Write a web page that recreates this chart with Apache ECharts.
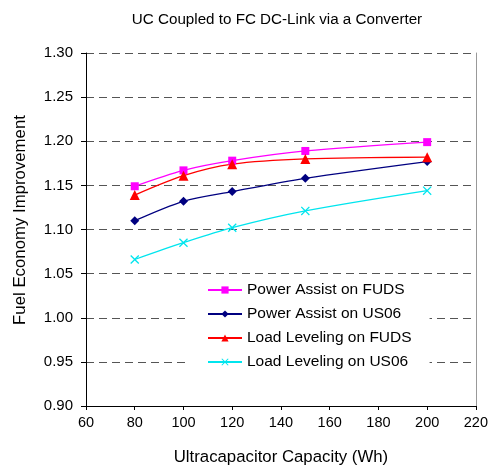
<!DOCTYPE html>
<html><head><meta charset="utf-8">
<script src="https://cdn.jsdelivr.net/npm/echarts@6/dist/echarts.min.js"></script>
<style>html,body{margin:0;padding:0;background:#fff}#c{width:491px;height:473px}</style>
</head><body><div id="c"></div>
<script>
const capacities = [80, 100, 120, 150, 200];
const powerAssistFUDS = [1.149, 1.167, 1.178, 1.189, 1.199];
const powerAssistUS06 = [1.110, 1.132, 1.143, 1.158, 1.177];
const loadLevelingFUDS = [1.139, 1.161, 1.174, 1.180, 1.182];
const loadLevelingUS06 = [1.066, 1.085, 1.102, 1.121, 1.144];
const seriesNames = ['Power Assist on FUDS','Power Assist on US06','Load Leveling on FUDS','Load Leveling on US06'];
const titleText = 'UC Coupled to FC DC-Link via a Converter';
const xName = 'Ultracapacitor Capacity (Wh)';
const yName = 'Fuel Economy Improvement';

const pair = v => capacities.map((x, i) => [x, v[i]]);
const xSym = 'path://M0,1L1,0L5,4L9,0L10,1L6,5L10,9L9,10L5,6L1,10L0,9L4,5Z';
const font = 'Liberation Sans, Arial, sans-serif';

const mk = (name, data, color, symbol, size) => ({
  name, type: 'line', data: pair(data), smooth: 0.3,
  symbol, symbolSize: size,
  lineStyle: { color, width: 1.3 },
  itemStyle: { color },
  emphasis: { disabled: true }
});

const chart = echarts.init(document.getElementById('c'));
chart.setOption({
  animation: false,
  backgroundColor: '#fff',
  title: { text: titleText, left: 272, top: 7, textAlign: 'center',
    textStyle: { fontFamily: font, fontSize: 15.2, fontWeight: 'normal', color: '#000' } },
  grid: { left: 86, right: 13, top: 53, bottom: 67 },
  legend: {
    orient: 'vertical', left: 190, top: 277, itemGap: 6, itemWidth: 34, itemHeight: 9,
    padding: [4, 18, 4, 17], backgroundColor: '#fff',
    textStyle: { fontFamily: font, fontSize: 15.5, color: '#000', lineHeight: 18 },
    data: seriesNames
  },
  graphic: [{
    type: 'text', x: 20, y: 220, rotation: Math.PI / 2,
    style: { text: yName, fontFamily: font, fontSize: 16.8, fill: '#000', align: 'center', verticalAlign: 'middle' }
  }],
  xAxis: {
    type: 'value', min: 60, max: 220, interval: 20,
    name: xName, nameLocation: 'middle', nameGap: 43,
    nameTextStyle: { fontFamily: font, fontSize: 16.8, color: '#000' },
    axisLine: { lineStyle: { color: '#000' } },
    axisTick: { show: true, length: 4, lineStyle: { color: '#000' } },
    axisLabel: { fontFamily: font, fontSize: 14.5, color: '#000', margin: 9 },
    splitLine: { show: false }
  },
  yAxis: [{
    type: 'value', min: 0.90, max: 1.30, interval: 0.05,
    axisLine: { show: true, lineStyle: { color: '#000' } },
    axisTick: { show: true, length: 5, lineStyle: { color: '#000' } },
    axisLabel: { fontFamily: font, fontSize: 15, color: '#000', margin: 13, formatter: v => v.toFixed(2) },
    splitLine: { show: true, lineStyle: { color: '#555', type: [8, 5], width: 1 } }
  }, {
    type: 'value', min: 0.90, max: 1.30, interval: 0.05, position: 'right',
    axisLine: { show: true, lineStyle: { color: '#999' } },
    axisTick: { show: false }, axisLabel: { show: false }, splitLine: { show: false }
  }],
  series: [
    mk(seriesNames[0], powerAssistFUDS, '#FF00FF', 'rect', 8),
    mk(seriesNames[1], powerAssistUS06, '#000080', 'diamond', 9),
    mk(seriesNames[2], loadLevelingFUDS, '#FF0000', 'triangle', 10),
    mk(seriesNames[3], loadLevelingUS06, '#00E5EE', xSym, 9)
  ]
});
</script></body></html>
